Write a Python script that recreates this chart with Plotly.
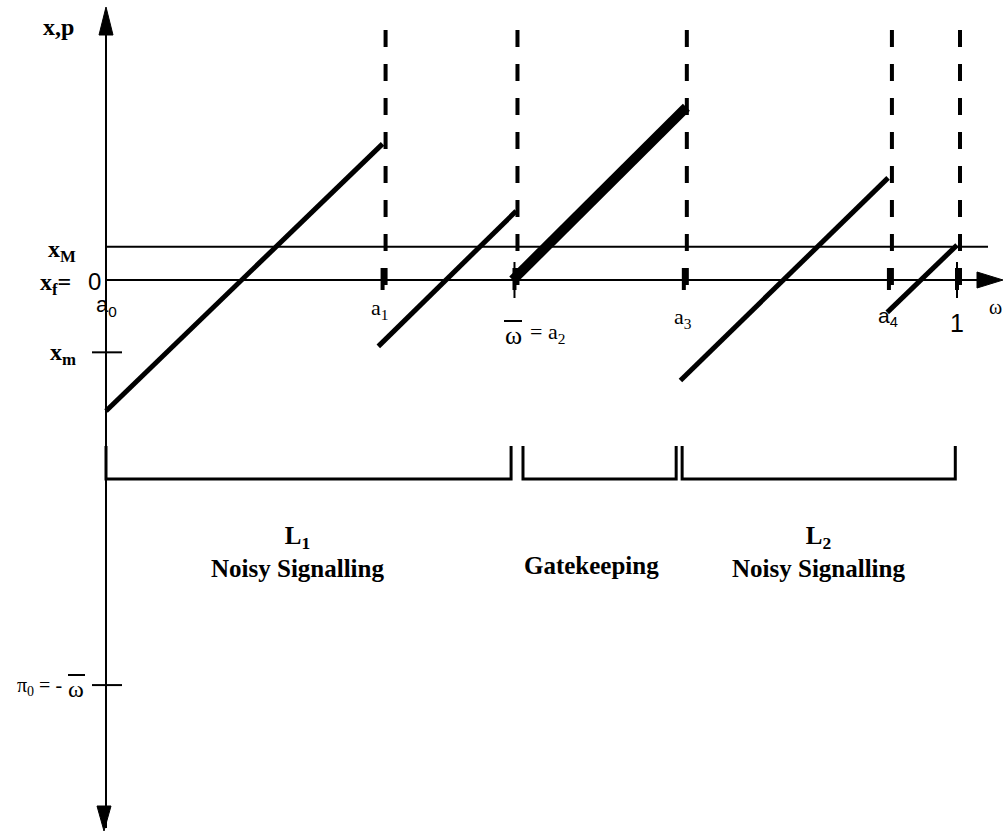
import plotly.graph_objects as go

# ---------------- data (omega units) ----------------
boundary_labels = ["a0", "a1", "a2", "a3", "a4", "1"]
boundaries = [0.0, 0.325, 0.480, 0.679, 0.920, 1.0]
x_M = 0.039
x_f = 0.0
x_m = -0.085
pi0 = -0.476

# sloped best-response segments
seg_w_start = [0.0, 0.320, 0.478, 0.675, 0.918]
seg_y_start = [-0.154, -0.078, 0.0, -0.118, -0.038]
seg_w_end = [0.325, 0.482, 0.682, 0.919, 1.0]
seg_y_end = [0.160, 0.081, 0.203, 0.120, 0.041]

# regime brackets
bracket_names = ["L<sub>1</sub><br>Noisy Signalling", "Gatekeeping", "L<sub>2</sub><br>Noisy Signalling"]
bracket_lo = [0.0, 0.490, 0.677]
bracket_hi = [0.476, 0.670, 0.998]
bracket_label_w = [0.2256, 0.571, 0.837]

# ---------------- geometry helpers (pixel -> data) ----------------
W, H = 1005, 832
SC = 851.0
OX, OY = 106.0, 280.0


def dx(px):
    return (px - OX) / SC


def dy(py):
    return (OY - py) / SC


seg_widths = [5, 5, 10, 5, 5]

fig = go.Figure()


def line(xs, ys, width=2, dash="solid", color="black"):
    fig.add_trace(go.Scatter(x=xs, y=ys, mode="lines",
                             line=dict(color=color, width=width, dash=dash),
                             hoverinfo="skip", showlegend=False))


def tri(xs, ys):
    fig.add_trace(go.Scatter(x=xs, y=ys, mode="lines", fill="toself",
                             fillcolor="black", line=dict(color="black", width=1),
                             hoverinfo="skip", showlegend=False))


# vertical axis with arrows
line([0, 0], [dy(10), dy(828)], 2)
tri([0, -7 / SC, 7 / SC, 0], [dy(7), dy(35), dy(35), dy(7)])
tri([dx(104), dx(97), dx(111), dx(104)], [dy(831), dy(806), dy(806), dy(831)])

# horizontal axis (x_f = 0) with arrow, and x_M line
line([0, dx(980)], [x_f, x_f], 2)
tri([dx(1003), dx(977), dx(977), dx(1003)], [x_f, x_f + 8 / SC, x_f - 8 / SC, x_f])
line([0, dx(988)], [x_M, x_M], 2)

# ticks on the vertical axis
line([dx(92), dx(122)], [x_m, x_m], 2)
line([dx(92), dx(122)], [pi0, pi0], 2)

# dashed verticals at a1..1
for b in boundaries[1:]:
    line([b + 3 / SC, b + 3 / SC], [dy(30), dy(290)], 4, dash="17px,17px")
# ticks on omega axis
for b in boundaries[1:]:
    line([b, b], [dy(268), dy(290)], 4)
for b in (boundaries[2], boundaries[5]):
    line([b, b], [dy(262), dy(298)], 2)

# sloped segments
for w0, y0, w1, y1, lw in zip(seg_w_start, seg_y_start, seg_w_end, seg_y_end, seg_widths):
    line([w0, w1], [y0, y1], lw)

# brackets
br_y, br_top = dy(479), dy(446)
for lo, hi in zip(bracket_lo, bracket_hi):
    line([lo, lo, hi, hi], [br_top, br_y, br_y, br_top], 3)

# ---------------- annotations ----------------
ann = []
shapes = []
SERIF = "Liberation Serif, Times New Roman, serif"
SANS = "Liberation Sans, Arial, sans-serif"


def txt(text, x, y, size, family=SERIF, xa="center", ya="middle"):
    ann.append(dict(text=text, x=x, y=y, xref="x", yref="y", showarrow=False,
                    xanchor=xa, yanchor=ya, font=dict(size=size, family=family, color="black")))


def bar(x0, x1, y):
    shapes.append(dict(type="line", xref="x", yref="y", x0=x0, x1=x1, y0=y, y1=y,
                       line=dict(color="black", width=2)))


txt("<b>x,p</b>", dx(76), dy(27), 24, xa="right")
txt("<b>x<sub>M</sub></b>", dx(78), dy(251), 24, xa="right")
txt("<b>x<sub>f</sub>=</b>", dx(73), dy(284), 24, xa="right")
txt("0", dx(94), dy(281), 24, SANS)
txt("a<sub>0</sub>", dx(106), dy(306), 22, SANS)
txt("<b>x<sub>m</sub></b>", dx(78), dy(354), 24, xa="right")

# pi0 = -omega-bar
txt("π<sub>0</sub> = -", dx(64), dy(686), 20, xa="right")
txt("ω", dx(76), dy(689), 24)
bar(dx(68), dx(85), dy(675))

txt("a<sub>1</sub>", boundaries[1] - 3 / SC, dy(309), 22)
# omega-bar = a2
txt("ω", dx(513), dy(335), 26)
bar(dx(504), dx(522), dy(321))
txt("= a<sub>2</sub>", dx(528), dy(333), 22, xa="left")
txt("a<sub>3</sub>", boundaries[3] - 1 / SC, dy(318), 22)
txt("a<sub>4</sub>", boundaries[4] - 1 / SC, dy(317), 21, SANS)
txt("1", boundaries[5], dy(323), 25, SANS)
txt("ω", dx(995), dy(307), 20)

label_y = [dy(552), dy(565), dy(552)]
for name, lw_, ly in zip(bracket_names, bracket_label_w, label_y):
    txt("<b>" + name + "</b>", lw_, ly, 25)

fig.update_layout(
    width=W, height=H, margin=dict(l=0, r=0, t=0, b=0),
    paper_bgcolor="white", plot_bgcolor="white",
    xaxis=dict(range=[dx(0), dx(W)], visible=False, fixedrange=True),
    yaxis=dict(range=[dy(H), dy(0)], visible=False, fixedrange=True),
    annotations=ann, shapes=shapes, showlegend=False,
)

fig.write_html("out.html", config={"displayModeBar": False},
               post_script="document.body.style.margin='0';document.body.style.overflow='hidden';")
